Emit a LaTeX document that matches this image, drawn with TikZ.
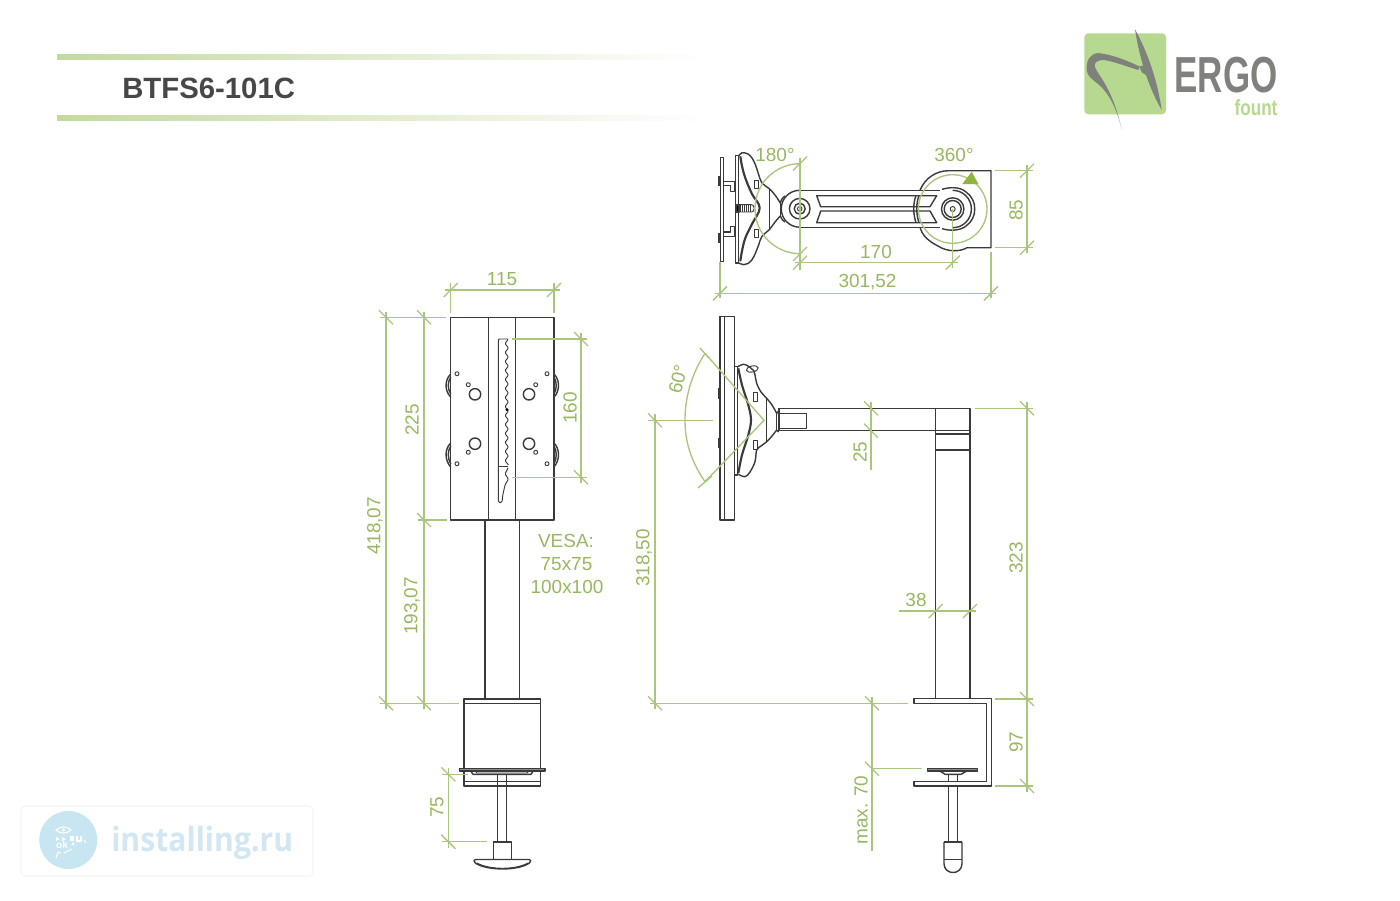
\documentclass[tikz,border=0pt]{standalone}
\usepackage{fontspec}
\usepackage{graphicx}
\setmainfont{Liberation Sans}
\newfontfamily\wmfont{Open Sans}
\definecolor{dimgreen}{HTML}{A9C67C}
\definecolor{txtgreen}{HTML}{97B85F}
\definecolor{arrowgreen}{HTML}{8FB53C}
\definecolor{ink}{HTML}{3A3A3A}
\definecolor{hdr}{HTML}{C3DA9E}
\definecolor{logobg}{HTML}{B7D98F}
\definecolor{logogray}{HTML}{7F827C}
\definecolor{wmblue}{HTML}{C8E5F2}
\definecolor{wmtext}{HTML}{D2E7F1}
\tikzset{
  ink/.style={draw=ink,line width=1.05pt,line join=round},
  thin ink/.style={draw=ink,line width=0.7pt,line join=round},
  thick ink/.style={draw=ink,line width=1.6pt,line join=round},
  dimln/.style={draw=dimgreen,line width=1pt},
  dimtxt/.style={text=txtgreen,font=\fontsize{14.2}{16}\selectfont,inner sep=0pt},
  vesatxt/.style={text=txtgreen,font=\fontsize{14.2}{16}\selectfont,inner sep=0pt},
}
\newcommand{\tk}[2]{\draw[dimln] ([shift={(-7,7)}]#1,#2) -- ([shift={(7,-7)}]#1,#2);}
\newcommand{\tkb}[2]{\draw[dimln] ([shift={(-7,-7)}]#1,#2) -- ([shift={(7,7)}]#1,#2);}
\begin{document}
\begin{tikzpicture}[x=0.75pt,y=-0.75pt]
\useasboundingbox (0,0) rectangle (1400,900);
\fill[white] (0,0) rectangle (1400,900);

% ---------- header
\shade[left color=hdr,right color=white] (57,54) rectangle (706,59);
\shade[left color=hdr,right color=white] (57,115) rectangle (706,120);
\node[anchor=west,inner sep=0pt,text=black!72,font=\fontsize{22}{24}\selectfont\bfseries] (title) at (122,88) {BTFS6-101C};

% ---------- logo
\fill[logobg,rounded corners=3pt] (1084.3,33.3) rectangle (1166,114.3);
\fill[logogray] (1135,29.3) .. controls (1150,56.7) and (1158,85) .. (1161.7,110)
   .. controls (1150,90) and (1140,62) .. (1135,29.3) -- cycle;
\fill[logogray] (1121.7,130) .. controls (1117,108) and (1108,92) .. (1098,84)
   .. controls (1092,79) and (1087,76) .. (1086.7,70)
   .. controls (1086,60) and (1090,54) .. (1098,53) .. controls (1115,55) and (1130,62) .. (1140,66.7)
   -- (1138.3,70) .. controls (1125,66) and (1110,60) .. (1101.7,60)
   .. controls (1096,61) and (1094,63) .. (1095,67) .. controls (1097,74) and (1113,88) .. (1121.7,130) -- cycle;
\fill[logogray] (1140,66) .. controls (1143,66) and (1146,65) .. (1147,64.5)
   .. controls (1148,68) and (1147.5,72) .. (1146,75) .. controls (1143,74) and (1140,72) .. (1140,66) -- cycle;
\node[inner sep=0pt,text=logogray,font=\fontsize{38}{38}\selectfont\bfseries] (ergo) at (1226,75.5) {\scalebox{.69}[1]{ERGO}};
\node[inner sep=0pt,text=logobg,font=\fontsize{16.5}{17}\selectfont\bfseries] (fount) at (1256,107.5) {\scalebox{.78}[1]{fount}};

% ---------- watermark
\draw[black!4,line width=0.8pt,rounded corners=3pt,fill=white] (21,806) rectangle (313,876);
\fill[wmblue] (68.3,840) circle (29);
\draw[white,line width=0.8pt] (56,830) .. controls (60,826) and (67,826) .. (71,830) .. controls (67,834) and (60,834) .. (56,830) -- cycle;
\fill[white] (63.5,830) circle (1.6);
\fill[white] (56,837) -- (60,839) -- (56,841) -- cycle;
\fill[white] (62,837) -- (66,839) -- (62,841) -- cycle;
\fill[white] (70,836) rectangle (74,841);
\draw[white,line width=0.8pt] (77,836) -- (77,841) -- (81,841) -- (81,836);
\node[inner sep=0pt,text=white,font=\fontsize{7.5}{8}\selectfont\bfseries] (wmok) at (62,845) {ok};
\fill[white] (73,844) circle (1.6);
\draw[white,line width=0.8pt] (84,840) -- (86,843);
\draw[white,line width=0.8pt] (56,858) -- (58,852) -- (61,853);
\draw[white,line width=0.8pt] (64,853) -- (72,849);
\node[anchor=west,inner sep=0pt,text=wmtext,font=\wmfont\fontsize{25}{27}\selectfont\bfseries] (wmtxt) at (111,843) {\scalebox{.905}[1]{installing.ru}};

% ---------- top view
\draw[ink] (720.3,157.3) rectangle (723.7,261.3);
\draw[thick ink] (718.7,176) -- (718.7,186) (718.7,233) -- (718.7,243);
\draw[ink] (723.7,181.3) -- (734.5,181.3) -- (734.5,191.3) -- (730.3,191.3) -- (730.3,185.3) -- (723.7,185.3);
\draw[ink] (723.7,232) -- (730.3,232) -- (730.3,226.5) -- (734.5,226.5) -- (734.5,236.5) -- (723.7,236.5);
\draw[ink] (735.3,155.3) rectangle (738.7,263);
\draw[ink] plot[smooth,tension=.6] coordinates {(738.7,156) (742,152.7) (748,154) (752,158) (755.5,165) (758.7,174.7) (762,183) (769.3,188.7) (775,195) (780.3,203)};
\draw[ink] plot[smooth,tension=.6] coordinates {(780.3,216) (775,222) (769.3,229.7) (762,236.3) (758.7,244.7) (755.5,253) (752,259.7) (748,263.5) (743.7,264.7) (738.7,263)};
\draw[thick ink] plot[smooth,tension=.6] coordinates {(740.3,156.3) (742,166) (745.3,178) (752,194) (759.7,208) (752,224) (745.3,238) (742,251) (740.3,261.3)};
\draw[thin ink] (754.3,180.7) rectangle (758.7,188.7) (754.3,229.7) rectangle (758.7,237.3);
\draw[ink] (769.3,188.7) -- (769.3,229.7);
\draw[ink] (780.3,203) -- (780.3,216);
\draw[thin ink,rounded corners=2pt] (736,204.7) rectangle (754,212);
\foreach \xx in {740,742,744,746,748,750} \draw[thin ink] (\xx,205) -- (\xx,212);
\fill[ink] (736,205) rectangle (739,212);
\draw[ink] (780.3,203) .. controls (781.5,199) and (783,197) .. (785,196);
\draw[ink] (780.3,216) .. controls (781.5,219) and (783,221) .. (785,222);
% arm
\draw[ink] (799.7,190.3) -- (940,190.3) (799.7,227.2) -- (940,227.2);
\draw[ink] (799.7,190.3) arc[start angle=-90,end angle=-270,radius=18.45];
\draw[ink] (799.7,208.7) circle (10.3);
\draw[ink] (799.7,208.7) circle (5.5);
\draw[thin ink] (799.7,208.7) circle (2.3);
\draw[ink] (816.7,195.7) -- (936.7,195.7) -- (930,206.7) -- (820.7,206.7) -- cycle;
\draw[ink] (820.7,211) -- (930,211) -- (936.7,222.7) -- (816.7,222.7) -- cycle;
% swivel
\draw[ink] (952.7,190.3) arc[start angle=-90,end angle=90,radius=18.7];
\draw[ink] (942,189.4) .. controls (949,187) and (960,186.5) .. (966,192) .. controls (972,196) and (975,203) .. (974.7,209)
   .. controls (975,215) and (972,222) .. (966,226) .. controls (960,231) and (949,231) .. (942,228.6);
\draw[ink] (952.7,209) circle (11.2) (952.7,209) circle (8.5);
\draw[thin ink] (952.7,209) circle (2.5);
\draw[ink] (920,190.3) .. controls (925,178) and (936,171) .. (948,170.7) -- (991,170.7) -- (991,247.7) -- (967,247.7)
   .. controls (960,252) and (947,252) .. (938,246) .. controls (928,241) and (922,235) .. (920,227.2);
\draw[ink] (916,195.7) .. controls (913,203) and (913,214) .. (916,222.7);
\draw[ink] (919,195.7) .. controls (916,203) and (916,214) .. (919,222.7);
% top view dims
\draw[dimln] (952.7,209) circle (34.3);
\fill[arrowgreen] (962.3,184) -- (978.3,184) -- (971.7,171.7) -- cycle;
\draw[dimln] (800,163.7) arc[start angle=-90,end angle=-270,radius=45];
\draw[dimln] (800,158) -- (800,270) (952.7,209) -- (952.7,268);
\tk{800}{163.5}\tk{800}{254}
\draw[dimln] (795,262.7) -- (958,262.7);
\tk{800}{262.7}\tk{952.7}{262.7}
\draw[dimln] (720,262) -- (720,298) (991,252) -- (991,298);
\draw[dimln] (715,293.3) -- (996,293.3);
\tk{720}{293.3}\tk{991}{293.3}
\draw[dimln] (995,170.7) -- (1033,170.7) (995,247.7) -- (1033,247.7);
\draw[dimln] (1027,165) -- (1027,253);
\tk{1027}{170.7}\tk{1027}{247.7}
\node[dimtxt] (a180) at (775,155) {180°};
\node[dimtxt] (a360) at (954,155) {360°};
\node[dimtxt] (d170) at (876,252) {170};
\node[dimtxt] (d301) at (867.5,282) {301,52};
\node[dimtxt,rotate=90] (d85) at (1016,210) {85};

% ---------- front view
\draw[ink] (450.7,317.3) rectangle (554,520);
\draw[ink] (488.7,317.3) -- (488.7,520) (515.7,317.3) -- (515.7,520);
\foreach \xa/\ya in {475/394.3,475/443.7,529/394.3,529/443.7} \draw[ink] (\xa,\ya) circle (5.7);
\foreach \xa/\ya in {468.3/384.7,535.7/384.7,468.3/452.3,535.7/452.3,457/373.7,547/373.7,457/463.7,547/463.7} \draw[thin ink] (\xa,\ya) circle (2);
\draw[ink] (450.7,374) .. controls (444.5,380) and (444.5,391) .. (450.7,397);
\draw[ink] (450.7,377) .. controls (447.5,382) and (447.5,389) .. (450.7,394);
\draw[ink] (450.7,443) .. controls (444.5,449) and (444.5,460) .. (450.7,467);
\draw[ink] (450.7,446) .. controls (447.5,451) and (447.5,458) .. (450.7,464);
\draw[ink] (554,374) .. controls (560,380) and (560,391) .. (554,397);
\draw[ink] (554,377) .. controls (557,382) and (557,389) .. (554,394);
\draw[ink] (554,443) .. controls (560,449) and (560,460) .. (554,467);
\draw[ink] (554,446) .. controls (557,451) and (557,458) .. (554,464);
% toothed slot
\draw[thin ink,rounded corners=0.8pt] (498.3,466.7) -- (498.3,339) -- (508.5,339)
   \foreach \i in {1,...,14} { -- ++(-3.6,4.5) -- ++(3.6,4.5) } ;
\draw[thin ink] (498.3,466.7) -- (508,466.7);
\draw[thin ink,rounded corners=0.8pt] (498.3,466.7) -- (498.3,500) .. controls (498.3,503.5) and (502,503.5) .. (502.3,500)
   .. controls (502.5,495) and (504,490) .. (505,485) -- (508.5,479) -- (505,474) -- (508,468);
\fill[black] (507,409.7) circle (1.7);
% column and clamp
\draw[ink] (485,520) -- (485,699) (519.3,520) -- (519.3,699);
\draw[ink] (464,699) rectangle (540.7,703.3);
\draw[ink] (464,703.3) -- (464,786) -- (540.7,786) -- (540.7,703.3);
\draw[ink] (464,781.7) -- (540.7,781.7);
\draw[ink,fill=black!45] (459.3,768.7) rectangle (545,771);
\draw[ink] (470.7,771) -- (473,774.3) -- (531,774.3) -- (533.3,771);
\draw[thin ink] (475,771) -- (477,773) -- (527,773) -- (529,771);
\draw[ink] (497.7,774.3) -- (497.7,841.7) (506.7,774.3) -- (506.7,841.7);
\draw[ink] (493.3,842) rectangle (511.3,859.3);
\draw[thick ink] (493.3,842) -- (511.3,842);
\draw[ink,rounded corners=1pt] (474,859.5) -- (530.7,859.5) -- (530.7,862) .. controls (519,871) and (486,871) .. (474,862) -- cycle;
\draw[thin ink] (477,863) .. controls (490,870) and (515,870) .. (528,863);
% front dims
\draw[dimln] (450.7,283) -- (450.7,313) (554,283) -- (554,313);
\draw[dimln] (445,290) -- (560,290);
\tk{450.7}{290}\tk{554}{290}
\draw[dimln] (380,317.3) -- (446,317.3) (418,520) -- (447,520) (380,703.3) -- (459,703.3);
\draw[dimln] (386,312) -- (386,709) (424,312) -- (424,709);
\tkb{386}{317.3}\tkb{424}{317.3}\tkb{424}{520}\tkb{386}{703.3}\tkb{424}{703.3}
\draw[dimln] (512.3,339) -- (587,339) (512.3,477.3) -- (587,477.3);
\draw[dimln] (581,333) -- (581,483);
\tkb{581}{339}\tkb{581}{477.3}
\draw[dimln] (442,774.3) -- (468,774.3) (442,841.7) -- (486.7,841.7);
\draw[dimln] (448.3,768) -- (448.3,848);
\tkb{448.3}{774.3}\tkb{448.3}{841.7}
\node[dimtxt] (d115) at (502,279) {115};
\node[dimtxt,rotate=90] (d418) at (375,526) {418,07};
\node[dimtxt,rotate=90] (d225) at (412,420) {225};
\node[dimtxt,rotate=90] (d193) at (412,606) {193,07};
\node[dimtxt,rotate=90] (d160) at (570,408) {160};
\node[dimtxt,rotate=90] (d75) at (437,807) {75};
\node[vesatxt] (vesa1) at (566,541) {VESA:};
\node[vesatxt] (vesa2) at (566.5,564) {75x75};
\node[vesatxt] (vesa3) at (567,587) {100x100};

% ---------- side view
\draw[ink] (720,316.7) rectangle (734.3,520);
\draw[thin ink] (724,316.7) -- (724,520);
\draw[thick ink] (719.3,388) -- (719.3,399) (719.3,437.7) -- (719.3,448.3);
\draw[ink] (734.3,366.7) rectangle (737.7,475);
\draw[ink] plot[smooth,tension=.55] coordinates {(737.7,366.7) (743.3,364.3) (748,366) (754,371) (755,375) (756.7,383.3) (761,392) (766.7,398.3) (772,405) (776.7,413.3)};
\draw[ink] plot[smooth,tension=.55] coordinates {(776.7,430) (772,436) (766.7,441.7) (761,446) (756.7,450) (755,461.7) (750,472) (745,476.7) (738.3,474.3)};
\draw[thick ink] plot[smooth,tension=.6] coordinates {(738.3,368.3) (742,385) (748.3,405) (751,420) (748.3,435) (742,455) (738.3,473.3)};
\draw[thin ink,rotate around={12:(752.3,369)}] (752.3,369) ellipse (6 and 3);
\draw[thin ink] (753.3,392.3) rectangle (757.3,401) (753.3,440.3) rectangle (757.3,449);
\draw[ink] (766.7,398.3) -- (766.7,441.7);
\draw[ink] (776.7,413.3) -- (776.7,430) (778.7,411) -- (778.7,432);
\draw[ink] (776.7,413.3) -- (778.7,411) (776.7,430) -- (778.7,432);
% arm and column
\draw[ink] (779,408.3) -- (970,408.3) -- (970,699);
\draw[ink] (779,408.3) -- (779,430.7) -- (935.7,430.7);
\draw[ink] (779.3,413.7) rectangle (806.7,428.7);
\draw[ink] (935.7,408.3) -- (935.7,699);
\draw[ink] (935.7,430.7) -- (970,430.7) (935.7,434) -- (970,434) (935.7,450) -- (970,450);
% clamp
\draw[ink] (914,698.3) -- (991.7,698.3) -- (991.7,786) -- (914,786) -- (914,781.7) -- (986.7,781.7) -- (986.7,703.3) -- (914,703.3) -- cycle;
\draw[ink,fill=black!45] (927.7,768.7) rectangle (977.7,771);
\draw[ink] (940,771) -- (945,774.3) -- (961,774.3) -- (966.7,771);
\draw[ink] (948.3,774.3) -- (948.3,781.7) (957.7,774.3) -- (957.7,781.7);
\draw[ink] (948.3,786) -- (948.3,841.7) (957.7,786) -- (957.7,841.7);
\draw[ink] (944,842) -- (944,863.5) .. controls (944,875.5) and (962,875.5) .. (962,863.5) -- (962,842);
\draw[thick ink] (944,842) -- (962,842);
\draw[thin ink] (944,859) -- (962,859);
% side dims
\draw[dimln] (705,353.3) -- (764,420.3) -- (705,481.7);
\draw[dimln] (705,353.3) .. controls (691,375) and (685,398) .. (685,420.3) .. controls (685,442) and (691,461) .. (705,481.7);
\draw[dimln] (700,348) -- (709,358) (698,488) -- (712,476);
\draw[dimln] (648,420.3) -- (712.7,420.3);
\draw[dimln] (655,414) -- (655,709);
\tkb{655}{420.3}\tkb{655}{703.3}
\draw[dimln] (650,703.3) -- (908,703.3);
\draw[dimln] (871,402) -- (871,470);
\tkb{871}{408.3}\tkb{871}{430.7}
\draw[dimln] (899,611) -- (976,611);
\tk{935.7}{611}\tk{970}{611}
\draw[dimln] (975,408.3) -- (1033,408.3) (995,699) -- (1033,699) (995,786) -- (1033,786);
\draw[dimln] (1027,402) -- (1027,792);
\tkb{1027}{408.3}\tkb{1027}{699}\tkb{1027}{786}
\draw[dimln] (872,697) -- (872,850.7);
\draw[dimln] (872,768.7) -- (922,768.7);
\tkb{872}{703.3}\tkb{872}{768.7}
\node[dimtxt,rotate=76] (a60) at (678,379) {60°};
\node[dimtxt,rotate=90] (d318) at (644,558) {318,50};
\node[dimtxt,rotate=90] (d25) at (860,452) {25};
\node[dimtxt] (d38) at (916,600) {38};
\node[dimtxt,rotate=90] (d323) at (1016,558) {323};
\node[dimtxt,rotate=90] (d97) at (1016,742) {97};
\node[dimtxt,rotate=90] (dmax) at (861,810) {max. 70};
\end{tikzpicture}
\end{document}
